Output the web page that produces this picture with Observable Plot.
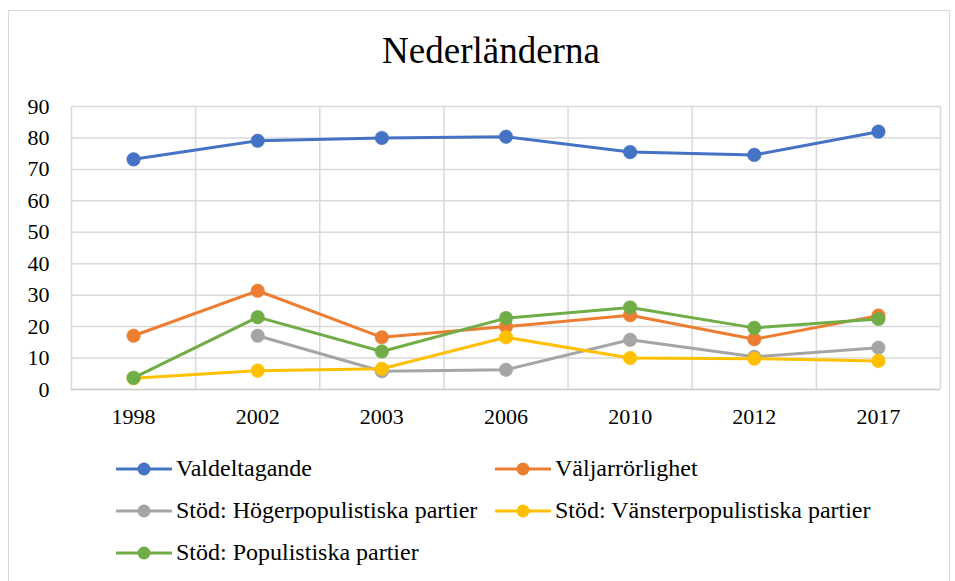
<!DOCTYPE html>
<html>
<head>
<meta charset="utf-8">
<script src="https://cdn.jsdelivr.net/npm/d3@7"></script>
<script src="https://cdn.jsdelivr.net/npm/@observablehq/plot@0.6"></script>
<style>
  body { margin: 0; background: #fff; font-family: "Liberation Serif", serif; color: #000; }
  #wrap { position: relative; width: 955px; height: 581px; overflow: hidden; background: #fff; }
  #frame { position: absolute; left: 8px; top: 10px; width: 942px; height: 590px; border: 1px solid #d9d9d9; box-sizing: border-box; }
  #title { position: absolute; left: 0; width: 982px; top: 32px; text-align: center; font-family: "Liberation Serif", serif; font-size: 37px; line-height: 37px; white-space: nowrap; }
  #chart { position: absolute; left: 0; top: 90px; }
  #chart svg text { font-family: "Liberation Serif", serif; }
  .lg-sw { position: absolute; }
  .lg-tx { position: absolute; font-family: "Liberation Serif", serif; font-size: 24px; line-height: 24px; white-space: nowrap; }
</style>
</head>
<body>
<div id="wrap">
  <div id="frame"></div>
  <div id="title">Nederländerna</div>
  <div id="chart"></div>
  <div id="legend"></div>
</div>
<script>
// ---- Data ----
const years = ["1998", "2002", "2003", "2006", "2010", "2012", "2017"];
const valdeltagande   = [73.2, 79.1, 80.0, 80.4, 75.5, 74.6, 82.0];
const valjarrorlighet = [17.1, 31.4, 16.6, 20.0, 23.6, 16.0, 23.5];
const hogerpop        = [null, 17.1, 5.8, 6.3, 15.8, 10.4, 13.3];
const vansterpop      = [3.6, 6.0, 6.6, 16.6, 10.0, 9.8, 9.1];
const populistiska    = [3.7, 23.0, 12.1, 22.7, 26.1, 19.6, 22.4];
const seriesNames = [
  "Valdeltagande",
  "Väljarrörlighet",
  "Stöd: Högerpopulistiska partier",
  "Stöd: Vänsterpopulistiska partier",
  "Stöd: Populistiska partier"
];
const seriesColors = ["#4472C4", "#ED7D31", "#A5A5A5", "#FFC000", "#70AD47"];
const yTicks = [0, 10, 20, 30, 40, 50, 60, 70, 80, 90];

const seriesValues = [valdeltagande, valjarrorlighet, hogerpop, vansterpop, populistiska];
const tables = seriesValues.map((vals) => vals.map((v, i) => ({ i, v })));
const bandEdges = d3.range(years.length + 1).map((k) => k - 0.5);
const serif = "Liberation Serif";

const seriesMarks = tables.flatMap((tbl, s) => [
  Plot.line(tbl, { x: "i", y: "v", stroke: seriesColors[s], strokeWidth: 3, strokeLinejoin: "round", strokeLinecap: "round" }),
  Plot.dot(tbl, { x: "i", y: "v", r: 6.8, fill: seriesColors[s], stroke: seriesColors[s], strokeWidth: 0.5 })
]);

const chart = Plot.plot({
  width: 955,
  height: 340,
  marginLeft: 71,
  marginRight: 15,
  marginTop: 16,
  marginBottom: 41,
  style: { fontFamily: serif, fontSize: "22px", color: "#000", background: "transparent" },
  x: { type: "linear", domain: [-0.5, years.length - 0.5] },
  y: { domain: [0, 90] },
  marks: [
    Plot.ruleY(yTicks.filter((t) => t > 0), { y: (d) => d, stroke: "#d9d9d9", strokeWidth: 1.5 }),
    Plot.ruleX(bandEdges, { x: (d) => d, y1: 0, y2: 90, stroke: "#d9d9d9", strokeWidth: 1.5 }),
    Plot.ruleY([0], { y: (d) => d, stroke: "#c8c8c8", strokeWidth: 1.5 }),
    Plot.axisY({ ticks: yTicks, tickSize: 0, tickPadding: 22, label: null, fontSize: 22, fontFamily: serif }),
    Plot.axisX({ ticks: d3.range(years.length), tickFormat: (i) => years[i], tickSize: 0, tickPadding: 19, label: null, fontSize: 22, fontFamily: serif }),
    ...seriesMarks
  ]
});
document.getElementById("chart").appendChild(chart);

// ---- Legend ----
const legend = document.getElementById("legend");
const colLeft = [116, 495];
const rowCenter = [469, 511, 553];
seriesNames.forEach((name, s) => {
  const col = s % 2, row = Math.floor(s / 2);
  const left = colLeft[col], cy = rowCenter[row];
  const sw = document.createElementNS("http://www.w3.org/2000/svg", "svg");
  sw.setAttribute("class", "lg-sw");
  sw.setAttribute("width", 56);
  sw.setAttribute("height", 20);
  sw.style.left = left + "px";
  sw.style.top = (cy - 10) + "px";
  sw.innerHTML = `<line x1="1" y1="10" x2="55" y2="10" stroke="${seriesColors[s]}" stroke-width="3" stroke-linecap="round"/>` +
    `<circle cx="28" cy="10" r="6.5" fill="${seriesColors[s]}"/>`;
  legend.appendChild(sw);
  const tx = document.createElement("div");
  tx.className = "lg-tx";
  tx.textContent = name;
  tx.style.left = (left + 60) + "px";
  tx.style.top = (cy - 13) + "px";
  legend.appendChild(tx);
});
</script>
</body>
</html>
